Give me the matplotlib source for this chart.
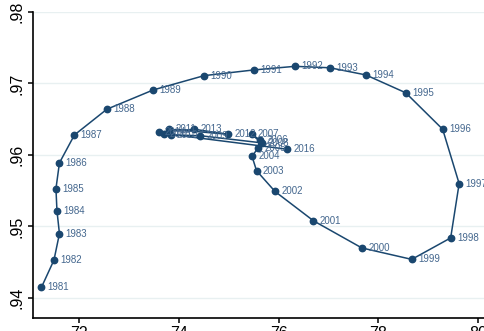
import matplotlib.pyplot as plt

# connected scatter, one point per year
years = list(range(1981, 2017))
x = [71.25, 71.50, 71.61, 71.56, 71.54, 71.61, 71.91, 72.56, 73.49, 74.51,
     75.51, 76.33, 77.03, 77.75, 78.55, 79.29, 79.62, 79.45, 78.67, 77.67,
     76.70, 75.93, 75.56, 75.47,
     75.59, 75.63, 75.46, 75.66, 74.43, 73.84, 73.81, 74.99, 74.31, 73.60, 73.70,
     76.18]
y = [0.9415, 0.9453, 0.9490, 0.9522, 0.9553, 0.9589, 0.9628, 0.9664, 0.9691, 0.9711,
     0.9719, 0.9724, 0.9722, 0.9712, 0.9687, 0.9636, 0.9560, 0.9484, 0.9454, 0.9470,
     0.9508, 0.9549, 0.9578, 0.9598,
     0.9610, 0.9621, 0.9629, 0.9617, 0.9627, 0.9628, 0.9636, 0.9629, 0.9636, 0.9632, 0.9630,
     0.9608]

navy = "#1a476f"

fig = plt.figure(figsize=(4.84, 3.31), dpi=100)
ax = fig.add_axes([33 / 484, 13 / 331, (528 - 33) / 484, (318 - 12) / 331])

ax.plot(x, y, color=navy, lw=1.1, marker="o", ms=4.6, mfc=navy, mec=navy, zorder=3)
for xi, yi, yr in zip(x, y, years):
    ax.annotate(str(yr), (xi, yi), xytext=(4.5, 0), textcoords="offset points",
                ha="left", va="center", fontsize=7, color="#44678e",
                family="Liberation Sans", annotation_clip=False)

ax.set_xlim(71.08, 81)
ax.set_ylim(0.9372, 0.98)
ax.set_xticks([72, 74, 76, 78, 80])
ax.set_yticks([0.94, 0.95, 0.96, 0.97, 0.98])
ax.set_xticklabels(["72", "74", "76", "78", "80"])
ax.set_yticklabels([".94", ".95", ".96", ".97", ".98"], rotation=90, va="center")

ax.grid(axis="y", color="#e8f0f1", lw=1)
ax.set_axisbelow(True)
for side in ["top", "right"]:
    ax.spines[side].set_visible(False)
for side in ["left", "bottom"]:
    ax.spines[side].set_linewidth(1.2)
ax.tick_params(length=3.5, width=1.1, labelsize=11.5, pad=2.5)
for lab in ax.get_xticklabels() + ax.get_yticklabels():
    lab.set_family("Liberation Sans")

fig.savefig("out.png", dpi=100)
